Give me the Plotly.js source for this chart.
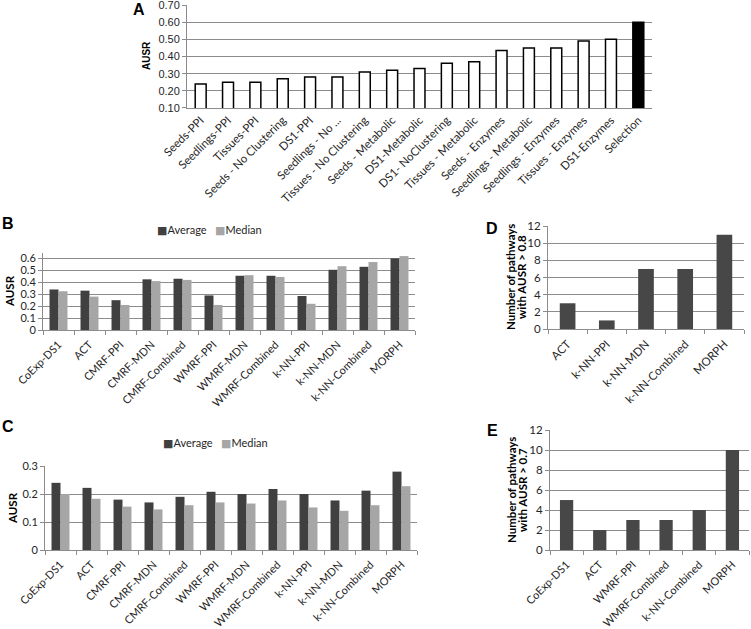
<!DOCTYPE html>
<html><head><meta charset="utf-8">
<script src="https://cdn.plot.ly/plotly-3.0.1.min.js"></script>
<style>html,body{margin:0;padding:0;background:#fff}#chart{width:751px;height:629px}</style>
</head><body><div id="chart"></div>
<script>
// ---- Data ----
const catA = ["Seeds-PPI","Seedlings-PPI","Tissues-PPI","Seeds - No Clustering","DS1-PPI","Seedlings - No ...","Tissues - No Clustering","Seeds - Metabolic","DS1-Metabolic","DS1- NoClustering","Tissues - Metabolic","Seeds - Enzymes","Seedlings - Metabolic","Seedlings - Enzymes","Tissues - Enzymes","DS1-Enzymes","Selection"];
const valA = [0.24,0.25,0.25,0.27,0.28,0.28,0.31,0.32,0.33,0.36,0.37,0.435,0.45,0.45,0.49,0.50,0.60];
const colA = ["#ffffff","#ffffff","#ffffff","#ffffff","#ffffff","#ffffff","#ffffff","#ffffff","#ffffff","#ffffff","#ffffff","#ffffff","#ffffff","#ffffff","#ffffff","#ffffff","#000000"];

const catBC = ["CoExp-DS1","ACT","CMRF-PPI","CMRF-MDN","CMRF-Combined","WMRF-PPI","WMRF-MDN","WMRF-Combined","k-NN-PPI","k-NN-MDN","k-NN-Combined","MORPH"];
const seriesNames = ["Average","Median"];
const avgB = [0.34,0.33,0.25,0.425,0.43,0.29,0.455,0.455,0.285,0.505,0.53,0.60];
const medB = [0.325,0.28,0.21,0.41,0.42,0.21,0.46,0.445,0.22,0.535,0.57,0.62];
const avgC = [0.24,0.222,0.18,0.17,0.19,0.208,0.20,0.218,0.20,0.177,0.212,0.28];
const medC = [0.20,0.183,0.155,0.145,0.16,0.17,0.166,0.177,0.152,0.14,0.16,0.228];

const catD = ["ACT","k-NN-PPI","k-NN-MDN","k-NN-Combined","MORPH"];
const valD = [3,1,7,7,11];
const catE = ["CoExp-DS1","ACT","WMRF-PPI","WMRF-Combined","k-NN-Combined","MORPH"];
const valE = [5,2,3,3,4,10];

// ---- Helpers ----
const W = 751, H = 629;
const px = v => v / W;
const py = v => 1 - v / H;
const dark = "#404040", light = "#a6a6a6", grid = "#8c8c8c";
const tickFont = {family: "Lato, 'Open Sans', sans-serif", size: 11, color: "#262626"};
const tickFontD = {family: "Lato, 'Open Sans', sans-serif", size: 11.5, color: "#262626"};
const tickFontE = {family: "Lato, 'Open Sans', sans-serif", size: 11, color: "#262626"};

const traces = [
  {type:"bar", x:catA, y:valA, xaxis:"x", yaxis:"y", width:0.4, showlegend:false,
   marker:{color:colA, line:{color:"#000", width:1.5}}},
  {type:"bar", name:seriesNames[0], x:catBC, y:avgB, xaxis:"x2", yaxis:"y2", showlegend:false,
   marker:{color:dark}},
  {type:"bar", name:seriesNames[1], x:catBC, y:medB, xaxis:"x2", yaxis:"y2", showlegend:false,
   marker:{color:light}},
  {type:"bar", name:seriesNames[0], x:catBC, y:avgC, xaxis:"x3", yaxis:"y3", showlegend:false,
   marker:{color:dark}},
  {type:"bar", name:seriesNames[1], x:catBC, y:medC, xaxis:"x3", yaxis:"y3", showlegend:false,
   marker:{color:light}},
  {type:"bar", x:catD, y:valD, xaxis:"x4", yaxis:"y4", width:0.4, showlegend:false,
   marker:{color:"#474747"}},
  {type:"bar", x:catE, y:valE, xaxis:"x5", yaxis:"y5", width:0.4, showlegend:false,
   marker:{color:"#474747"}}
];

function xax(d0, d1, anchor, opts) {
  return Object.assign({domain:[px(d0), px(d1)], anchor:anchor, type:"category",
    tickangle:-45, tickfont:tickFont, showline:true, linecolor:grid, linewidth:1,
    showgrid:false, zeroline:false, fixedrange:true, automargin:false,
    ticklabeloverflow:"allow"}, opts||{});
}
function yax(d0, d1, anchor, range, dtick, opts) {
  return Object.assign({domain:[py(d1), py(d0)], anchor:anchor, range:range, dtick:dtick,
    tickfont:tickFont, showline:true, linecolor:grid, linewidth:1, ticks:"outside",
    ticklen:4, tickcolor:grid, showgrid:true, gridcolor:grid, gridwidth:1,
    zeroline:false, fixedrange:true, automargin:false, ticklabeloverflow:"allow"}, opts||{});
}
const bx = {ticks:"outside", ticklen:4, tickcolor:grid, tickson:"boundaries", ticklabelstandoff:3};

const layout = {
  width:W, height:H, margin:{l:0,r:0,t:0,b:0}, paper_bgcolor:"#fff", plot_bgcolor:"#fff",
  barmode:"group", bargap:0.42, bargroupgap:0, showlegend:false,
  xaxis: xax(187, 652, "y", {ticks:"", tickfont:{family:"Lato, sans-serif", size:11.5, color:"#262626"}}),
  yaxis: yax(5, 108, "x", [0.0999, 0.7001], 0.1, {tickvals:[0.1,0.2,0.3,0.4,0.5,0.6,0.7], tickformat:".2f",
    tickfont:{family:"'Liberation Sans', Arial, sans-serif", size:11, color:"#262626"}}),
  xaxis2: xax(43, 415, "y2", bx),
  yaxis2: yax(252.5, 330, "x2", [0, 0.65], 0.1, {tickvals:[0,0.1,0.2,0.3,0.4,0.5,0.6]}),
  xaxis3: xax(45, 417, "y3", bx),
  yaxis3: yax(466, 550, "x3", [0, 0.3001], 0.1, {tickvals:[0,0.1,0.2,0.3]}),
  xaxis4: xax(548, 744, "y4", Object.assign({}, bx, {tickfont:tickFontD})),
  yaxis4: yax(226, 329, "x4", [0, 12.01], 2, {tickvals:[0,2,4,6,8,10,12], tickfont:tickFontD}),
  xaxis5: xax(550, 749, "y5", Object.assign({}, bx, {tickfont:tickFontE})),
  yaxis5: yax(430, 550, "x5", [0, 12.01], 2, {tickvals:[0,2,4,6,8,10,12], tickfont:tickFontD}),
  annotations: []
};

const letterFont = {family:"'Liberation Sans', Arial, sans-serif", size:16, color:"#000"};
const titleFont = {family:"Lato, 'Open Sans', sans-serif", size:11.5, color:"#000"};
const legFont = {family:"Lato, 'DejaVu Sans', sans-serif", size:11, color:"#262626"};
function ann(text, x, y, font, angle, xanchor) {
  layout.annotations.push({text:text, xref:"paper", yref:"paper", x:px(x), y:py(y),
    xanchor:xanchor||"center", yanchor:"middle", showarrow:false, font:font, textangle:angle||0});
}
ann("<b>A</b>", 139, 9, letterFont);
ann("<b>B</b>", 8, 224, letterFont);
ann("<b>C</b>", 8, 426, letterFont);
ann("<b>D</b>", 492, 228, letterFont);
ann("<b>E</b>", 492, 430, letterFont);
ann("<b>AUSR</b>", 147, 56, {family:"'Liberation Sans', Arial, sans-serif", size:10, color:"#000"}, -90);
ann("<b>AUSR</b>", 9, 291, titleFont, -90);
ann("<b>AUSR</b>", 12, 508, titleFont, -90);
ann("<b>Number of pathways</b>", 511, 277, titleFont, -90);
ann("<b>with AUSR &gt; 0.8</b>", 522, 277, titleFont, -90);
ann("<b>Number of pathways</b>", 511, 490, titleFont, -90);
ann("<b>with AUSR &gt; 0.7</b>", 522, 490, titleFont, -90);

// legends for B and C (series names with coloured squares)
const legText = '<span style="color:' + dark + '">■</span>' + seriesNames[0] +
  '&nbsp;&nbsp;&nbsp;<span style="color:' + light + '">■</span>' + seriesNames[1];
ann(legText, 155, 229, legFont, 0, "left");
ann(legText, 161, 442, legFont, 0, "left");

Plotly.newPlot("chart", traces, layout, {staticPlot:true, displayModeBar:false});
</script></body></html>
